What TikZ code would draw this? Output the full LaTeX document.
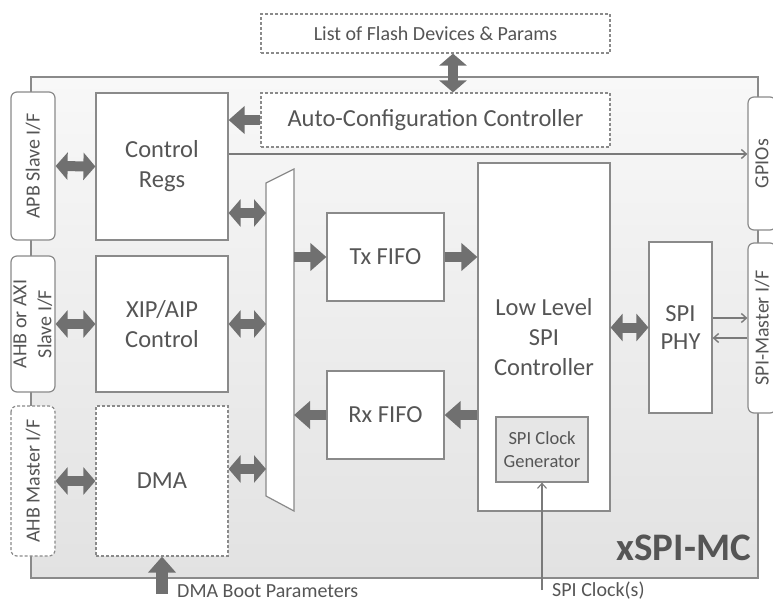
\documentclass[tikz,border=0pt]{standalone}
\usepackage{fontspec}
\setmainfont{Carlito}
\usepackage{xcolor}
\usepackage{tikz}
\usetikzlibrary{arrows.meta, calc}

\definecolor{boxgray}{HTML}{8A8A8A}
\definecolor{arrgray}{HTML}{707070}
\definecolor{txtgray}{HTML}{555555}
\definecolor{wiregray}{HTML}{7A7A7A}
\definecolor{shtop}{HTML}{F8F8F8}
\definecolor{shbot}{HTML}{E2E2E2}
\definecolor{genfill}{HTML}{E6E6E6}

\begin{document}
\begin{tikzpicture}[x=1pt, y=-1pt,
    box/.style={draw=boxgray, line width=1.2pt, fill=white, text=txtgray, align=center,
        inner sep=0pt, font=\fontsize{24.5}{30}\selectfont},
    dbox/.style={box, dash pattern=on 3pt off 2pt},
    tab/.style={box, rounded corners=6pt, rotate=90, font=\fontsize{20}{25}\selectfont},
    lbl/.style={text=txtgray, inner sep=0pt, font=\fontsize{20}{24}\selectfont},
    blk/.style={draw=arrgray, line width=10pt, -{Triangle[length=16pt, width=27pt]}},
    dblk/.style={draw=arrgray, line width=10pt,
        {Triangle[length=12pt, width=27pt]}-{Triangle[length=12pt, width=27pt]}},
    wire/.style={draw=wiregray, line width=1.4pt, -{Straight Barb[length=5pt, width=9pt]}}]

    \useasboundingbox (0,0) rectangle (773,603);
    \clip (0,0) rectangle (773,603);

    % Rahmen xSPI-MC
    \path[top color=shtop, bottom color=shbot, draw=boxgray, line width=1.6pt] (31,77) rectangle (758,578);
    \node[text=txtgray, inner sep=0pt, anchor=base east, font=\fontsize{39}{40}\selectfont\bfseries] (mclbl) at (751,560) {xSPI-MC};

    % Oben
    \node[dbox, minimum width=349pt, minimum height=39pt, font=\fontsize{20}{24}\selectfont] (flash) at (435.5,33.5) {List of Flash Devices \& Params};
    \node[dbox, minimum width=349pt, minimum height=54pt] (auto) at (435.5,120) {Auto-Configuration Controller};

    % Schnittstellen links
    \node[tab, minimum width=148pt, minimum height=44pt] (apb) at (33,166) {APB Slave I/F};
    \node[tab, minimum width=136pt, minimum height=44pt] (ahbs) at (33,324) {AHB or AXI\\Slave I/F};
    \node[tab, dash pattern=on 3pt off 2pt, minimum width=150pt, minimum height=44pt] (ahbm) at (33,481) {AHB Master I/F};

    % Schnittstellen rechts
    \node[tab, minimum width=133pt, minimum height=28pt] (gpio) at (762,163.5) {GPIOs};
    \node[tab, minimum width=170pt, minimum height=28pt] (spim) at (762,328) {SPI-Master I/F};

    % Bloecke
    \node[box, minimum width=132pt, minimum height=147pt] (regs) at (162,166.5) {Control\\Regs};
    \node[box, minimum width=132pt, minimum height=136pt] (xip) at (162,324) {XIP/AIP\\Control};
    \node[dbox, minimum width=132pt, minimum height=150pt] (dma) at (162,481) {DMA};
    \node[box, minimum width=117pt, minimum height=88pt] (tx) at (385.5,257) {Tx FIFO};
    \node[box, minimum width=117pt, minimum height=88pt] (rx) at (385.5,415) {Rx FIFO};
    \node[box, minimum width=132pt, minimum height=348pt] (llc) at (544,337) {Low Level\\SPI\\Controller};
    \node[box, fill=genfill, minimum width=92pt, minimum height=65pt, font=\fontsize{18.5}{23}\selectfont] (clkgen) at (542,449.5) {SPI Clock\\Generator};
    \node[box, minimum width=63pt, minimum height=171pt, font=\fontsize{24.5}{28}\selectfont] (phy) at (680.5,327.5) {SPI\\PHY};

    % Multiplexer
    \draw[draw=boxgray, line width=1.2pt, fill=white] (266,183) -- (294,169) -- (294,511) -- (266,496) -- cycle;
    \coordinate (muxl) at (266,340);
    \coordinate (muxr) at (294,340);

    % Pfeile
    \draw[dblk] ([xshift=17.5pt]flash.south) -- ([xshift=17.5pt]auto.north);
    \draw[blk] (auto.west) -- (auto.west -| regs.east);
    \draw[dblk] (apb.south) -- (regs.west);
    \draw[dblk] (ahbs.south) -- (xip.west);
    \draw[dblk] (ahbm.south) -- (dma.west);
    \draw[dblk] ([yshift=-46.5pt]regs.east) -- ([yshift=-46.5pt]regs.east -| muxl);
    \draw[dblk] (xip.east) -- (xip.east -| muxl);
    \draw[dblk] ([yshift=12pt]dma.east) -- ([yshift=12pt]dma.east -| muxl);
    \draw[blk] (tx.west -| muxr) -- (tx.west);
    \draw[blk] (rx.west) -- (rx.west -| muxr);
    \draw[blk] (tx.east) -- (tx.east -| llc.west);
    \draw[blk] (rx.east -| llc.west) -- (rx.east);
    \draw[dblk] (phy.west -| llc.east) -- (phy.west);
    \draw[wire] ([yshift=12.5pt]regs.east) -- ([yshift=12.5pt]regs.east -| gpio.north);
    \draw[wire] ([yshift=9.5pt]phy.east) -- ([yshift=9.5pt]phy.east -| spim.north);
    \draw[wire] ([yshift=-10.5pt]phy.east -| spim.north) -- ([yshift=-10.5pt]phy.east);

    % Unten
    \node[lbl, anchor=west] (bootlbl) at (177,591) {DMA Boot Parameters};
    \draw[blk, line width=12pt] (dma.south |- 0,594) -- (dma.south);
    \node[lbl, anchor=west] (clklbl) at (552,591) {SPI Clock(s)};
    \coordinate (clkin) at (542,590);
    \draw[wire, line width=1.1pt] (clkin) -- (clkgen.south);
\end{tikzpicture}
\end{document}
